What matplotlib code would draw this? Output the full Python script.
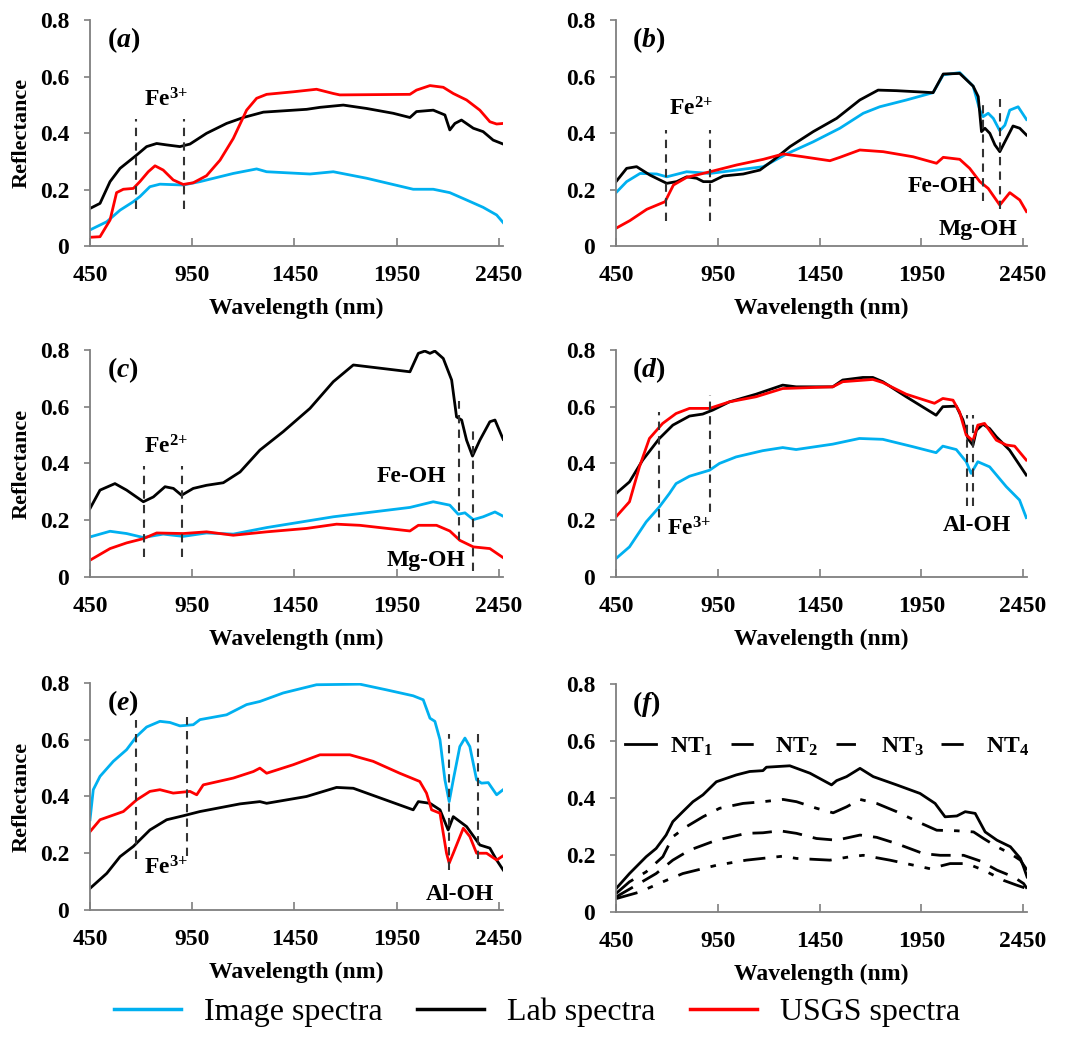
import matplotlib.pyplot as plt
from matplotlib.lines import Line2D

plt.rcParams['font.family'] = 'Liberation Serif'
plt.rcParams['font.weight'] = 'bold'
plt.rcParams['mathtext.fontset'] = 'custom'
plt.rcParams['mathtext.rm'] = 'Liberation Serif:bold'
plt.rcParams['mathtext.bf'] = 'Liberation Serif:bold'
plt.rcParams['mathtext.it'] = 'Liberation Serif:italic:bold'

BLUE = '#00B0F0'
RED = '#FF0000'
BLACK = '#000000'

# ---- panel (a) ----
a_img_x = [450, 532, 597, 662, 694, 743, 792, 906, 988, 1151, 1265, 1314, 1526, 1640, 1803, 2031, 2129, 2210, 2292, 2373, 2439, 2471]
a_img_y = [0.057, 0.086, 0.127, 0.157, 0.175, 0.210, 0.219, 0.216, 0.228, 0.257, 0.273, 0.263, 0.255, 0.263, 0.240, 0.201, 0.201, 0.189, 0.163, 0.137, 0.110, 0.083]
a_lab_x = [450, 499, 548, 597, 678, 727, 776, 825, 890, 939, 1020, 1118, 1200, 1298, 1510, 1575, 1689, 1803, 1933, 2015, 2047, 2129, 2186, 2210, 2235, 2267, 2325, 2373, 2422, 2471]
a_lab_y = [0.133, 0.151, 0.228, 0.275, 0.322, 0.352, 0.363, 0.358, 0.352, 0.361, 0.399, 0.434, 0.455, 0.474, 0.484, 0.491, 0.499, 0.487, 0.470, 0.455, 0.476, 0.481, 0.464, 0.411, 0.434, 0.446, 0.417, 0.405, 0.375, 0.361]
a_usgs_x = [450, 499, 548, 580, 613, 662, 694, 735, 768, 808, 857, 906, 955, 1020, 1086, 1151, 1216, 1265, 1314, 1444, 1558, 1640, 1672, 2015, 2047, 2113, 2178, 2227, 2292, 2357, 2406, 2439, 2471]
a_usgs_y = [0.031, 0.033, 0.092, 0.189, 0.201, 0.204, 0.228, 0.263, 0.284, 0.269, 0.234, 0.218, 0.224, 0.249, 0.304, 0.381, 0.481, 0.523, 0.537, 0.546, 0.555, 0.540, 0.535, 0.537, 0.552, 0.568, 0.562, 0.540, 0.517, 0.481, 0.440, 0.432, 0.434]

# ---- panel (b) ----
b_img_x = [450, 502, 568, 650, 699, 797, 912, 1043, 1174, 1288, 1419, 1550, 1665, 1746, 1877, 2008, 2058, 2139, 2205, 2238, 2254, 2279, 2304, 2336, 2361, 2385, 2426, 2467]
b_img_y = [0.189, 0.228, 0.257, 0.255, 0.245, 0.263, 0.257, 0.269, 0.281, 0.326, 0.369, 0.417, 0.470, 0.493, 0.517, 0.543, 0.606, 0.614, 0.566, 0.481, 0.458, 0.470, 0.452, 0.408, 0.428, 0.481, 0.493, 0.448]
b_lab_x = [450, 502, 551, 617, 699, 748, 797, 846, 879, 920, 977, 1075, 1157, 1223, 1305, 1419, 1534, 1648, 1738, 1828, 2008, 2058, 2139, 2205, 2230, 2246, 2263, 2287, 2312, 2336, 2361, 2401, 2434, 2467]
b_lab_y = [0.228, 0.275, 0.281, 0.251, 0.222, 0.228, 0.245, 0.240, 0.228, 0.228, 0.248, 0.255, 0.269, 0.304, 0.352, 0.405, 0.452, 0.517, 0.552, 0.550, 0.543, 0.609, 0.611, 0.566, 0.529, 0.405, 0.417, 0.399, 0.358, 0.334, 0.369, 0.425, 0.417, 0.393]
b_usgs_x = [450, 518, 601, 691, 732, 797, 912, 1043, 1174, 1272, 1370, 1501, 1550, 1648, 1763, 1910, 2025, 2058, 2139, 2188, 2238, 2279, 2336, 2385, 2434, 2467]
b_usgs_y = [0.063, 0.090, 0.130, 0.157, 0.216, 0.243, 0.263, 0.287, 0.307, 0.326, 0.316, 0.302, 0.314, 0.340, 0.334, 0.316, 0.293, 0.314, 0.307, 0.275, 0.228, 0.204, 0.145, 0.189, 0.163, 0.122]

# ---- panel (c) ----
c_img_x = [450, 548, 629, 711, 808, 906, 1020, 1151, 1314, 1640, 2015, 2129, 2210, 2251, 2284, 2325, 2373, 2431, 2471]
c_img_y = [0.141, 0.161, 0.153, 0.139, 0.151, 0.143, 0.155, 0.151, 0.174, 0.212, 0.245, 0.265, 0.253, 0.221, 0.226, 0.202, 0.212, 0.229, 0.214]
c_lab_x = [450, 499, 572, 629, 711, 760, 817, 858, 898, 955, 1020, 1102, 1184, 1281, 1395, 1526, 1640, 1738, 2015, 2056, 2088, 2113, 2137, 2178, 2219, 2243, 2268, 2292, 2321, 2357, 2406, 2431, 2471]
c_lab_y = [0.241, 0.306, 0.329, 0.306, 0.265, 0.282, 0.318, 0.312, 0.288, 0.312, 0.323, 0.332, 0.370, 0.447, 0.512, 0.594, 0.688, 0.747, 0.723, 0.788, 0.796, 0.788, 0.796, 0.770, 0.694, 0.564, 0.553, 0.482, 0.426, 0.482, 0.547, 0.553, 0.485]
c_usgs_x = [450, 548, 629, 711, 776, 906, 1020, 1151, 1314, 1509, 1656, 1770, 2015, 2056, 2145, 2210, 2259, 2325, 2406, 2471]
c_usgs_y = [0.059, 0.100, 0.120, 0.135, 0.155, 0.153, 0.159, 0.147, 0.159, 0.171, 0.186, 0.182, 0.162, 0.182, 0.182, 0.162, 0.129, 0.106, 0.100, 0.068]

# ---- panel (d) ----
d_img_x = [450, 516, 598, 663, 712, 745, 811, 909, 958, 1040, 1171, 1269, 1335, 1515, 1646, 1761, 1909, 2023, 2056, 2122, 2171, 2195, 2228, 2286, 2368, 2433, 2466]
d_img_y = [0.065, 0.106, 0.194, 0.247, 0.294, 0.329, 0.355, 0.376, 0.400, 0.423, 0.445, 0.456, 0.449, 0.468, 0.488, 0.485, 0.459, 0.438, 0.461, 0.449, 0.406, 0.365, 0.406, 0.388, 0.318, 0.271, 0.209]
d_lab_x = [450, 516, 581, 663, 729, 811, 876, 925, 1007, 1138, 1269, 1335, 1515, 1564, 1663, 1712, 1761, 1876, 2023, 2056, 2122, 2155, 2179, 2204, 2221, 2253, 2286, 2319, 2384, 2466]
d_lab_y = [0.294, 0.335, 0.412, 0.488, 0.535, 0.567, 0.574, 0.588, 0.617, 0.644, 0.676, 0.670, 0.670, 0.694, 0.703, 0.703, 0.688, 0.635, 0.570, 0.600, 0.602, 0.553, 0.488, 0.464, 0.517, 0.538, 0.523, 0.494, 0.447, 0.359]
d_usgs_x = [450, 516, 565, 614, 679, 745, 811, 909, 1007, 1138, 1269, 1515, 1564, 1712, 1761, 1876, 2015, 2056, 2106, 2138, 2171, 2204, 2228, 2261, 2319, 2368, 2409, 2466]
d_usgs_y = [0.212, 0.265, 0.388, 0.488, 0.541, 0.576, 0.594, 0.594, 0.617, 0.635, 0.664, 0.670, 0.688, 0.696, 0.685, 0.644, 0.612, 0.629, 0.623, 0.582, 0.500, 0.480, 0.535, 0.541, 0.482, 0.465, 0.461, 0.412]

# ---- panel (e) ----
e_img_x = [450, 466, 499, 564, 629, 678, 727, 792, 841, 890, 955, 988, 1118, 1216, 1281, 1395, 1558, 1770, 1900, 2031, 2080, 2113, 2137, 2162, 2186, 2207, 2227, 2259, 2284, 2308, 2341, 2365, 2398, 2439, 2471]
e_img_y = [0.318, 0.424, 0.471, 0.524, 0.565, 0.612, 0.645, 0.665, 0.661, 0.649, 0.653, 0.671, 0.688, 0.724, 0.735, 0.765, 0.794, 0.796, 0.776, 0.755, 0.741, 0.676, 0.665, 0.600, 0.459, 0.382, 0.459, 0.576, 0.606, 0.576, 0.459, 0.447, 0.449, 0.406, 0.424]
e_lab_x = [450, 532, 597, 662, 694, 743, 825, 906, 988, 1184, 1281, 1314, 1509, 1656, 1738, 2031, 2056, 2113, 2162, 2202, 2227, 2292, 2357, 2406, 2439, 2471]
e_lab_y = [0.076, 0.129, 0.188, 0.224, 0.247, 0.282, 0.318, 0.332, 0.347, 0.374, 0.382, 0.376, 0.400, 0.432, 0.429, 0.353, 0.382, 0.376, 0.353, 0.282, 0.329, 0.294, 0.229, 0.218, 0.176, 0.141]
e_usgs_x = [450, 499, 613, 678, 743, 792, 857, 939, 972, 1004, 1151, 1249, 1281, 1314, 1444, 1575, 1721, 1835, 1965, 2063, 2096, 2121, 2162, 2194, 2207, 2227, 2276, 2308, 2341, 2390, 2439, 2471]
e_usgs_y = [0.276, 0.318, 0.347, 0.388, 0.418, 0.424, 0.412, 0.418, 0.406, 0.441, 0.465, 0.488, 0.500, 0.482, 0.512, 0.547, 0.547, 0.524, 0.482, 0.453, 0.412, 0.353, 0.341, 0.200, 0.165, 0.200, 0.288, 0.259, 0.200, 0.200, 0.176, 0.191]

# ---- panel (f) ----
nt1_x = [450, 516, 598, 647, 696, 729, 778, 828, 877, 943, 1041, 1107, 1172, 1189, 1304, 1403, 1509, 1534, 1583, 1649, 1714, 1829, 1944, 2018, 2067, 2125, 2166, 2215, 2264, 2322, 2388, 2437, 2453, 2470]
nt1_y = [0.082, 0.135, 0.194, 0.223, 0.270, 0.317, 0.352, 0.387, 0.411, 0.457, 0.481, 0.493, 0.496, 0.508, 0.513, 0.487, 0.446, 0.461, 0.475, 0.504, 0.475, 0.446, 0.416, 0.381, 0.334, 0.337, 0.352, 0.346, 0.281, 0.252, 0.229, 0.188, 0.158, 0.123]
nt2_x = [450, 516, 598, 680, 729, 795, 877, 959, 1074, 1172, 1271, 1337, 1435, 1517, 1583, 1649, 1731, 1829, 1944, 2026, 2125, 2207, 2256, 2322, 2388, 2437, 2470]
nt2_y = [0.065, 0.106, 0.141, 0.194, 0.264, 0.299, 0.334, 0.364, 0.381, 0.387, 0.395, 0.387, 0.364, 0.348, 0.369, 0.395, 0.381, 0.352, 0.313, 0.287, 0.285, 0.281, 0.258, 0.229, 0.205, 0.182, 0.147]
nt3_x = [450, 549, 647, 729, 811, 943, 1090, 1172, 1255, 1337, 1435, 1534, 1649, 1731, 1829, 1960, 2043, 2158, 2240, 2322, 2404, 2453, 2470]
nt3_y = [0.053, 0.094, 0.135, 0.182, 0.217, 0.252, 0.276, 0.278, 0.285, 0.276, 0.258, 0.252, 0.270, 0.262, 0.240, 0.205, 0.199, 0.199, 0.179, 0.147, 0.123, 0.100, 0.082]
nt4_x = [450, 565, 680, 778, 943, 1090, 1271, 1337, 1501, 1600, 1665, 1796, 1993, 2092, 2174, 2256, 2355, 2420, 2470]
nt4_y = [0.047, 0.070, 0.106, 0.135, 0.164, 0.182, 0.196, 0.188, 0.182, 0.194, 0.199, 0.182, 0.152, 0.170, 0.170, 0.147, 0.111, 0.094, 0.082]

# absorption markers: (wavelength, y bottom, y top)
a_marks = [(676, 0.13, 0.45), (911, 0.13, 0.45)]
b_marks = [(696, 0.09, 0.41), (912, 0.09, 0.41), (2254, 0.16, 0.50), (2336, 0.13, 0.52)]
c_marks = [(714, 0.07, 0.39), (898, 0.07, 0.39), (2256, 0.13, 0.62), (2325, 0.02, 0.53)]
d_marks = [(663, 0.16, 0.58), (914, 0.23, 0.64), (2176, 0.25, 0.57), (2204, 0.25, 0.57)]
e_marks = [(673, 0.18, 0.67), (926, 0.19, 0.68), (2207, 0.14, 0.62), (2349, 0.18, 0.62)]

# labels: (text, x, y, ha)
a_notes = [('Fe$^{3{+}}$', 715, 0.517, 'left')]
b_notes = [('Fe$^{2{+}}$', 712, 0.487, 'left'), ('Fe-OH', 2225, 0.21, 'right'), ('Mg-OH', 2420, 0.057, 'right')]
c_notes = [('Fe$^{2{+}}$', 716, 0.459, 'left'), ('Fe-OH', 2194, 0.353, 'right'), ('Mg-OH', 2286, 0.059, 'right')]
d_notes = [('Fe$^{3{+}}$', 700, 0.171, 'left'), ('Al-OH', 2225, 0.182, 'center')]
e_notes = [('Fe$^{3{+}}$', 712, 0.147, 'left'), ('Al-OH', 2260, 0.053, 'center')]

xticks = [450, 950, 1450, 1950, 2450]
yticks = [0, 0.2, 0.4, 0.6, 0.8]
ytick_labels = ['0', '0.2', '0.4', '0.6', '0.8']

fig = plt.figure(figsize=(10.74, 10.39), dpi=100)

positions = {
    'a': [0.0838, 0.7632, 0.3845, 0.2175],
    'b': [0.5736, 0.7632, 0.3827, 0.2175],
    'c': [0.0838, 0.4447, 0.3845, 0.2185],
    'd': [0.5736, 0.4447, 0.3827, 0.2185],
    'e': [0.0838, 0.1242, 0.3845, 0.2184],
    'f': [0.5736, 0.1222, 0.3827, 0.2195],
}

def setup(ax, letter, ylabel):
    ax.set_xlim(450, 2470)
    ax.set_ylim(0, 0.8)
    ax.set_xticks(xticks)
    ax.set_yticks(yticks)
    ax.set_yticklabels(ytick_labels)
    for s in ['top', 'right']:
        ax.spines[s].set_visible(False)
    for s in ['left', 'bottom']:
        ax.spines[s].set_color('#7f7f7f')
        ax.spines[s].set_linewidth(1.3)
    ax.tick_params(axis='x', direction='in', length=6, color='#7f7f7f', width=1.2, labelsize=17, pad=14)
    ax.tick_params(axis='y', direction='out', length=4, color='#7f7f7f', width=1.2, labelsize=17, pad=11)
    ax.set_xlabel('Wavelength (nm)', fontsize=17, fontweight='bold', labelpad=8)
    if ylabel:
        ax.set_ylabel('Reflectance', fontsize=16, fontweight='bold', labelpad=6)
    ax.text(0.04, 0.91, r'$(\mathit{' + letter + '})$', transform=ax.transAxes,
            fontsize=20, va='center', ha='left')

def spectra(ax, img, lab, usgs, marks, notes):
    ax.plot(img[0], img[1], color=BLUE, lw=2)
    ax.plot(lab[0], lab[1], color=BLACK, lw=2)
    ax.plot(usgs[0], usgs[1], color=RED, lw=2)
    for x, y0, y1 in marks:
        ax.plot([x, x], [y0, y1], color='#333333', lw=1.5, ls=(0, (4, 3)))
    for t, x, y, ha in notes:
        ax.text(x, y, t, fontsize=17, fontweight='bold', ha=ha, va='center')

axa = fig.add_axes(positions['a'])
setup(axa, 'a', True)
spectra(axa, (a_img_x, a_img_y), (a_lab_x, a_lab_y), (a_usgs_x, a_usgs_y), a_marks, a_notes)

axb = fig.add_axes(positions['b'])
setup(axb, 'b', False)
spectra(axb, (b_img_x, b_img_y), (b_lab_x, b_lab_y), (b_usgs_x, b_usgs_y), b_marks, b_notes)

axc = fig.add_axes(positions['c'])
setup(axc, 'c', True)
spectra(axc, (c_img_x, c_img_y), (c_lab_x, c_lab_y), (c_usgs_x, c_usgs_y), c_marks, c_notes)

axd = fig.add_axes(positions['d'])
setup(axd, 'd', False)
spectra(axd, (d_img_x, d_img_y), (d_lab_x, d_lab_y), (d_usgs_x, d_usgs_y), d_marks, d_notes)

axe = fig.add_axes(positions['e'])
setup(axe, 'e', True)
spectra(axe, (e_img_x, e_img_y), (e_lab_x, e_lab_y), (e_usgs_x, e_usgs_y), e_marks, e_notes)

axf = fig.add_axes(positions['f'])
setup(axf, 'f', False)
axf.plot(nt1_x, nt1_y, color='black', lw=2, ls='-', label='NT$_{1}$')
axf.plot(nt2_x, nt2_y, color='black', lw=2, ls=(0, (8, 4, 2, 4)), label='NT$_{2}$')
axf.plot(nt3_x, nt3_y, color='black', lw=2, ls=(0, (7, 4)), label='NT$_{3}$')
axf.plot(nt4_x, nt4_y, color='black', lw=2, ls=(0, (8, 4, 2, 4, 2, 4)), label='NT$_{4}$')
axf.legend(loc='center left', bbox_to_anchor=(0.0, 0.725), ncol=4, frameon=False,
           fontsize=17, handlelength=1.3, handletextpad=0.6, columnspacing=0.75, borderaxespad=0)

handles = [Line2D([], [], color=BLUE, lw=2.5),
           Line2D([], [], color=BLACK, lw=2.5),
           Line2D([], [], color=RED, lw=2.5)]
fig.legend(handles, ['Image spectra', 'Lab spectra', 'USGS spectra'], loc='center',
           bbox_to_anchor=(0.50, 0.026), ncol=3, frameon=False,
           prop={'family': 'Liberation Serif', 'weight': 'normal', 'size': 23},
           handlelength=2.1, handletextpad=0.7, columnspacing=1.1)

fig.savefig('out.png', dpi=100)
